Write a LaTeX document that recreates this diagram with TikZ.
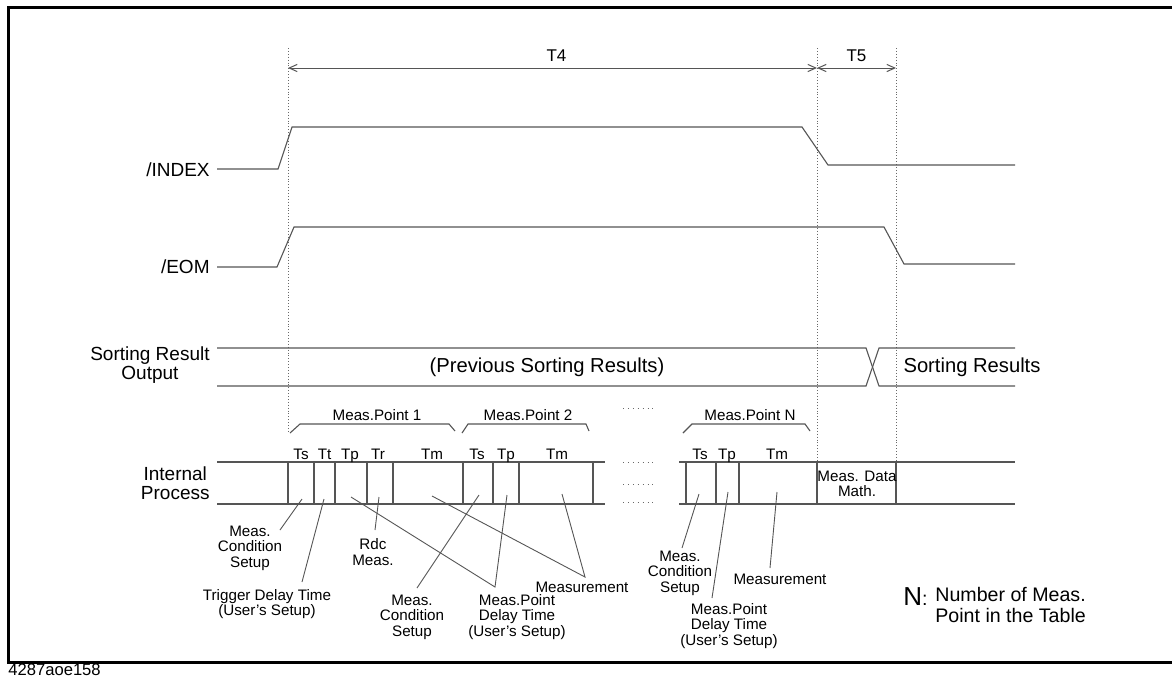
\documentclass[tikz,border=0pt]{standalone}
\usepackage{fontspec}
\setmainfont{Liberation Sans}
\usetikzlibrary{
  arrows.meta,
  positioning,
  calc
}
\definecolor{tdLine}{RGB}{85,85,85}
\definecolor{tdGuide}{RGB}{105,105,105}
\definecolor{tdFrame}{RGB}{0,0,0}
\newcommand{\tdapos}{\char39\relax}
\tikzset{
  tdsig/.style={
    draw=tdLine,
    line width=0.55pt
  },
  tdguide/.style={
    draw=tdGuide,
    densely dotted,
    line width=0.45pt
  },
  tdfill/.style={
    draw=tdGuide,
    dotted,
    line width=0.45pt
  },
  tdleader/.style={
    draw=tdLine,
    line width=0.45pt
  },
  tdspan/.style={
    {Straight Barb[length=4pt,width=3.6pt]}-{Straight Barb[length=4pt,width=3.6pt]},
    draw=tdLine,
    line width=0.5pt
  },
  siglabel/.style={
    anchor=east,
    align=center,
    inner sep=0pt,
    font=\fontsize{9.5}{9.8}\selectfont
  },
  bustext/.style={
    inner sep=0pt,
    font=\fontsize{10.1}{11}\selectfont
  },
  slotlabel/.style={
    anchor=base,
    inner sep=0pt,
    font=\fontsize{7.6}{7.8}\selectfont
  },
  notetext/.style={
    align=center,
    inner sep=0pt,
    font=\fontsize{7.6}{7.8}\selectfont
  }
}

\begin{document}
\begin{tikzpicture}[x=0.5pt, y=-0.5pt]
  \useasboundingbox (0,0) rectangle (1172,676);
  \draw[tdFrame, line width=1.5pt] (8,7) rectangle (1178,662);
  \node[anchor=base west, inner sep=0pt, font=\fontsize{8.3}{9}\selectfont] (figid) at (8,675) {4287aoe158};

  % signal names
  \node[siglabel] (lblindex) at (210,170) {/INDEX};
  \node[siglabel] (lbleom) at (210,267) {/EOM};
  \node[siglabel] (lblsort) at (210,365) {Sorting Result\\Output};
  \node[siglabel] (lblint) at (210,483) {Internal\\Process};

  % timing guides and spans
  \draw[tdguide] (288,48) -- (288,432);
  \draw[tdguide] (817,48) -- (817,462);
  \draw[tdguide] (896,48) -- (896,462);
  \coordinate (t4start) at (288,68);
  \coordinate (t4end) at (817,68);
  \coordinate (t5end) at (896,68);
  \draw[tdspan] (t4start) -- node[above=3pt, inner sep=0pt, font=\fontsize{8.5}{9}\selectfont, xshift=2pt] (t4) {T4} (t4end);
  \draw[tdspan] (t4end) -- node[above=3pt, inner sep=0pt, font=\fontsize{8.5}{9}\selectfont] (t5) {T5} (t5end);

  % waveforms
  \draw[tdsig] (217,169) -- (278,169) -- (292,127) -- (802,127) -- (828,165) -- (1015,165);
  \draw[tdsig] (217,267) -- (277,267) -- (294,227) -- (884,227) -- (904,264) -- (1015,264);
  \draw[tdsig] (217,348) -- (866,348) -- (879,386) -- (1015,386);
  \draw[tdsig] (217,386) -- (866,386) -- (879,348) -- (1015,348);
  \node[bustext] (prevres) at (547,367) {(Previous Sorting Results)};
  \node[bustext] (sortres) at (972,367) {Sorting Results};

  % internal process
  \draw[tdsig] (217,462) -- (605,462);
  \draw[tdsig] (217,504) -- (605,504);
  \draw[tdsig] (679,462) -- (1015,462);
  \draw[tdsig] (679,504) -- (1015,504);
  \foreach \x in {288,314,335,367,393,463,493,519,593,686,716,739,817,896} {
    \draw[tdsig] (\x,462) -- (\x,504);
  }
  \foreach \y in {408,462,484,502} {
    \draw[tdfill] (623,\y) -- (656,\y);
  }
  \foreach \x/\t in {301/Ts,324.5/Tt,350/Tp,378/Tr,432/Tm,477/Ts,506/Tp,557/Tm,700/Ts,727/Tp,777/Tm} {
    \node[slotlabel] at (\x,459) {\t};
  }
  \node[notetext] (mathbox) at (857,484) {Meas. Data\\Math.};

  % measurement point brackets
  \draw[tdsig] (290,433) -- (300,424) -- (449,424) -- (455,431);
  \draw[tdsig] (462,433) -- (468,424) -- (586,424) -- (589,431);
  \draw[tdsig] (683,433) -- (692,424) -- (805,424) -- (810,431);
  \node[slotlabel] (mp1) at (377,420) {Meas.Point 1};
  \node[slotlabel] (mp2) at (528,420) {Meas.Point 2};
  \node[slotlabel] (mpn) at (750,420) {Meas.Point N};

  % slot anchors
  \coordinate (ts1) at (302,499);
  \coordinate (tt1) at (324,499);
  \coordinate (tp1) at (351,497);
  \coordinate (tr1) at (379,497);
  \coordinate (tm1) at (432,496);
  \coordinate (ts2) at (479,495);
  \coordinate (tp2) at (507,495);
  \coordinate (tm2) at (562,494);
  \coordinate (tsn) at (699,494);
  \coordinate (tpn) at (728,492);
  \coordinate (tmn) at (777,492);

  % annotations
  \node[notetext] (cond1) at (250,548) {Meas.\\Condition\\Setup};
  \node[notetext] (trig) at (267,604) {Trigger Delay Time\\(User\tdapos s Setup)};
  \node[notetext] (rdc) at (373,552) {Rdc\\Meas.};
  \node[notetext] (cond2) at (412,617) {Meas.\\Condition\\Setup};
  \node[notetext] (delay1) at (517,617) {Meas.Point\\Delay Time\\(User\tdapos s Setup)};
  \node[notetext] (meas1) at (582,587) {Measurement};
  \node[notetext] (condn) at (680,573) {Meas.\\Condition\\Setup};
  \node[notetext] (delayn) at (729,626) {Meas.Point\\Delay Time\\(User\tdapos s Setup)};
  \node[notetext] (measn) at (780,579) {Measurement};

  \coordinate (cond1end) at (280,530);
  \coordinate (trigend) at (302,582);
  \coordinate (rdcend) at (375,530);
  \coordinate (cond2end) at (417,588);
  \coordinate (delay1end) at (495,587);
  \coordinate (meas1end) at (585,577);
  \coordinate (condnend) at (682,548);
  \coordinate (delaynend) at (712,598);
  \coordinate (measnend) at (770,568);

  \draw[tdleader] (cond1end) -- (ts1);
  \draw[tdleader] (trigend) -- (tt1);
  \draw[tdleader] (rdcend) -- (tr1);
  \draw[tdleader] (tp1) -- (delay1end) -- (tp2);
  \draw[tdleader] (cond2end) -- (ts2);
  \draw[tdleader] (tm1) -- (meas1end) -- (tm2);
  \draw[tdleader] (condnend) -- (tsn);
  \draw[tdleader] (delaynend) -- (tpn);
  \draw[tdleader] (measnend) -- (tmn);

  % legend
  \node[anchor=west, inner sep=0pt] (nkey) at (903,597) {{\fontsize{13}{13}\selectfont N}\fontsize{9.8}{10}\selectfont:};
  \node[anchor=west, align=left, inner sep=0pt, font=\fontsize{9.8}{10.5}\selectfont] (nnote) at (935,605) {Number of Meas.\\Point in the Table};
\end{tikzpicture}
\end{document}
